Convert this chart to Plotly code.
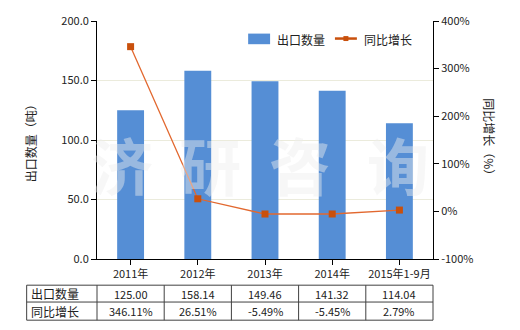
import plotly.graph_objects as go

categories = ["2011年", "2012年", "2013年", "2014年", "2015年1-9月"]
export_qty = [125.00, 158.14, 149.46, 141.32, 114.04]
yoy_growth = [346.11, 26.51, -5.49, -5.45, 2.79]
row_labels = ["出口数量", "同比增长"]
left_ticks = [0, 50, 100, 150, 200]
right_ticks = [-100, 0, 100, 200, 300, 400]
watermark_chars = ["济", "研", "咨", "询"]

W, H = 520, 330
L, R, T, B = 96.5, 86.7, 19.3, 70.7
pw, ph = W - L - R, H - T - B

def px_x(x):
    return (x - L) / pw

def px_y(y):
    return (H - B - y) / ph

FONT = "Noto Sans CJK SC, Microsoft YaHei, sans-serif"
TXT = "#222222"
BAR = "#558ed5"
LINE = "#e2682f"
MARK = "#c9500c"

fig = go.Figure()
fig.add_trace(go.Bar(
    x=categories, y=export_qty, name="出口数量",
    marker=dict(color=BAR, line=dict(width=0)), width=0.4,
))
fig.add_trace(go.Scatter(
    x=categories, y=yoy_growth, name="同比增长", yaxis="y2",
    mode="lines+markers",
    line=dict(color=LINE, width=1.3),
    marker=dict(symbol="square", size=7, color=MARK),
))

axis_common = dict(showline=True, linecolor="#000000", linewidth=1,
                   ticks="outside", ticklen=5, tickcolor="#000000",
                   tickfont=dict(size=11, color=TXT, family=FONT))

fig.update_layout(
    width=W, height=H,
    margin=dict(l=L, r=R, t=T, b=B, pad=0),
    paper_bgcolor="white", plot_bgcolor="white",
    font=dict(family=FONT, size=11, color=TXT),
    showlegend=False,
    xaxis=dict(type="category", **axis_common),
    yaxis=dict(range=[0, 200], tickvals=left_ticks,
               ticktext=[f"{v:.1f}" for v in left_ticks],
               showgrid=True, gridcolor="#ebebdc", gridwidth=1,
               zeroline=False, **axis_common),
    yaxis2=dict(range=[-100, 400], tickvals=right_ticks,
                ticktext=[f"{v}%" for v in right_ticks],
                overlaying="y", side="right", showgrid=False, zeroline=False,
                **axis_common),
)

def ann(text, x, y, size=12, xanchor="center", yanchor="middle", angle=0, color=TXT):
    fig.add_annotation(text=text, xref="paper", yref="paper", x=x, y=y,
                       xanchor=xanchor, yanchor=yanchor, textangle=angle,
                       showarrow=False, font=dict(size=size, color=color, family=FONT))

# axis titles
ann("出口数量（吨）", px_x(30), px_y(140), angle=-90)
ann("同比增长（%）", px_x(490), px_y(139), angle=90)

# watermark
for ch, cx in zip(watermark_chars, [122, 210, 300, 398]):
    ann("<b>" + ch + "</b>", px_x(cx), px_y(163), size=62,
        color="rgba(238,238,238,0.45)")

# custom legend
fig.add_shape(type="rect", xref="paper", yref="paper",
              x0=px_x(248), x1=px_x(270), y0=px_y(42.7), y1=px_y(32),
              fillcolor=BAR, line=dict(width=0))
ann(row_labels[0], px_x(275), px_y(37.5), xanchor="left")
fig.add_shape(type="line", xref="paper", yref="paper",
              x0=px_x(335), x1=px_x(357), y0=px_y(37), y1=px_y(37),
              line=dict(color=MARK, width=2.5))
fig.add_shape(type="rect", xref="paper", yref="paper",
              x0=px_x(343.5), x1=px_x(348.5), y0=px_y(39.5), y1=px_y(34.5),
              fillcolor=MARK, line=dict(width=0))
ann(row_labels[1], px_x(362), px_y(37.5), xanchor="left")

# table
tl, tt, tm, tb = px_x(26), px_y(285.7), px_y(302.7), px_y(321)
tr = 1.0
lc = dict(color="#404040", width=1)
fig.add_shape(type="rect", xref="paper", yref="paper", x0=tl, x1=tr, y0=tb, y1=tt, line=lc)
fig.add_shape(type="line", xref="paper", yref="paper", x0=tl, x1=tr, y0=tm, y1=tm, line=lc)
n = len(categories)
for i in range(n):
    xv = i / n
    fig.add_shape(type="line", xref="paper", yref="paper", x0=xv, x1=xv, y0=tb, y1=tt, line=lc)

rows = [[f"{v:.2f}" for v in export_qty], [f"{v:.2f}%" for v in yoy_growth]]
ycent = [(tt + tm) / 2, (tm + tb) / 2]
for r, lab in enumerate(row_labels):
    ann(lab, px_x(28), ycent[r], xanchor="left")
    for i in range(n):
        ann(rows[r][i], (i + 0.5) / n, ycent[r], size=11)

fig.write_html("out.html")
